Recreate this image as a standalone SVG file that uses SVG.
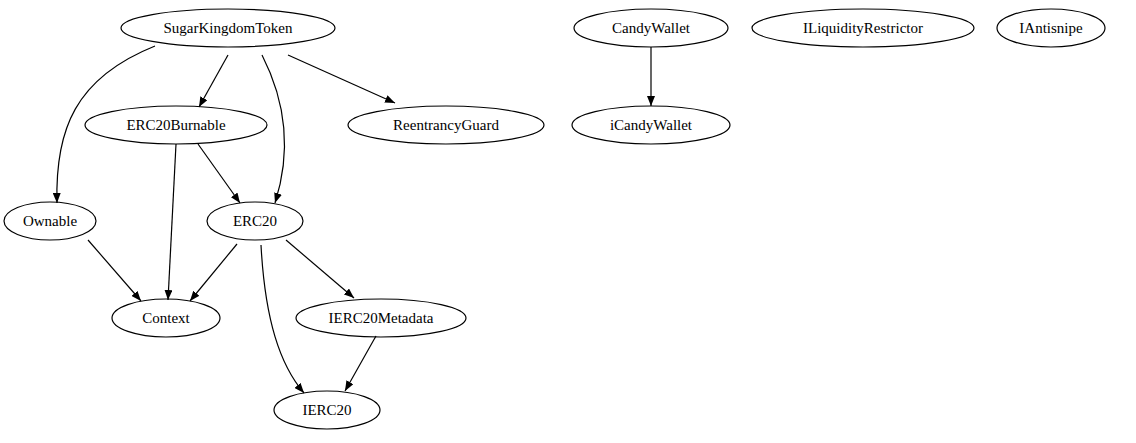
<svg xmlns="http://www.w3.org/2000/svg" width="1136" height="443" viewBox="0 0 1136 443">
<style>
ellipse{fill:none;stroke:#000;stroke-width:1.2}
text{font-family:"Liberation Serif",serif;font-size:15px;text-anchor:middle;dominant-baseline:central}
.e{fill:none;stroke:#000;stroke-width:1.2;marker-end:url(#a)}
</style>
<defs><marker id="a" markerWidth="10" markerHeight="8" refX="10" refY="4" orient="auto" markerUnits="userSpaceOnUse"><path d="M0,0L10,4L0,8z"/></marker></defs>
<rect width="1136" height="443" fill="#fff"/>
<g id="connectors">
<path class="e" d="M155,46 C75,78 55,130 57,203"/>
<path class="e" d="M228,55 L199,107"/>
<path class="e" d="M262,55 C285,100 292,150 275,203"/>
<path class="e" d="M288,55 L395,103"/>
<path class="e" d="M651,47 L651,106"/>
<path class="e" d="M176,144 L168,300"/>
<path class="e" d="M198,144 L240,203"/>
<path class="e" d="M88,240 L141,301"/>
<path class="e" d="M237,244 L190,301"/>
<path class="e" d="M286,240 L354,298"/>
<path class="e" d="M261,245 C265,320 280,365 304,393"/>
<path class="e" d="M376,336 L345,391"/>
</g>
<g id="SugarKingdomToken"><ellipse cx="228" cy="28" rx="107" ry="19"/><text x="228" y="28">SugarKingdomToken</text></g>
<g id="CandyWallet"><ellipse cx="651" cy="28" rx="77" ry="19"/><text x="651" y="28">CandyWallet</text></g>
<g id="ILiquidityRestrictor"><ellipse cx="863" cy="28" rx="111" ry="19"/><text x="863" y="28">ILiquidityRestrictor</text></g>
<g id="IAntisnipe"><ellipse cx="1051" cy="28" rx="54" ry="19"/><text x="1051" y="28">IAntisnipe</text></g>
<g id="ERC20Burnable"><ellipse cx="176" cy="125" rx="91" ry="19"/><text x="176" y="125">ERC20Burnable</text></g>
<g id="ReentrancyGuard"><ellipse cx="446" cy="125" rx="98" ry="19"/><text x="446" y="125">ReentrancyGuard</text></g>
<g id="iCandyWallet"><ellipse cx="651" cy="125" rx="79" ry="19"/><text x="651" y="125">iCandyWallet</text></g>
<g id="Ownable"><ellipse cx="50" cy="221" rx="46" ry="19"/><text x="50" y="221">Ownable</text></g>
<g id="ERC20"><ellipse cx="255" cy="221" rx="48" ry="19"/><text x="255" y="221">ERC20</text></g>
<g id="Context"><ellipse cx="166" cy="318" rx="54" ry="19"/><text x="166" y="318">Context</text></g>
<g id="IERC20Metadata"><ellipse cx="381" cy="318" rx="85" ry="19"/><text x="381" y="318">IERC20Metadata</text></g>
<g id="IERC20"><ellipse cx="327" cy="410" rx="53" ry="19"/><text x="327" y="410">IERC20</text></g>
</svg>
